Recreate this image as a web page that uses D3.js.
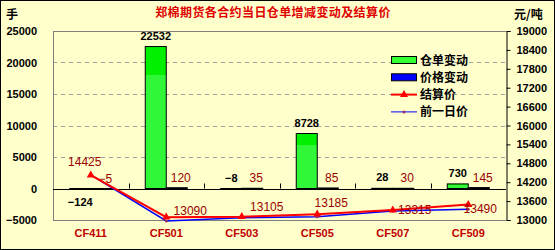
<!DOCTYPE html>
<html>
<head>
<meta charset="utf-8">
<script src="https://cdn.jsdelivr.net/npm/d3@7"></script>
<style>
  body { margin: 0; background: #fff; }
  svg text { font-family: "Liberation Sans", Arial, sans-serif; }
  .cjk { font-family: "Noto Sans CJK SC", sans-serif; font-weight: bold; }
</style>
</head>
<body>
<svg id="chart"></svg>
<script>
// contracts
const categories = ["CF411", "CF501", "CF503", "CF505", "CF507", "CF509"];
// warehouse receipt change (lots) and settlement price change (yuan/t)
const receiptChange = [-124, 22532, -8, 8728, 28, 730];
const priceChange = [-5, 120, 35, 85, 30, 145];
// settlement price and previous day's price
const settlePrice = [14425, 13090, 13105, 13185, 13315, 13490];
const prevPrice = [14430, 12970, 13070, 13100, 13285, 13345];
const leftTicks = [-5000, 0, 5000, 10000, 15000, 20000, 25000];
const rightTicks = [13000, 13600, 14200, 14800, 15400, 16000, 16600, 17200, 17800, 18400, 19000];
const seriesNames = ["仓单变动", "价格变动", "结算价", "前一日价"];
const title = "郑棉期货各合约当日仓单增减变动及结算价";

// manual label nudges for settlement labels (like dragged excel labels)
const settleLabelNudge = [[-6, -13], [24, -6], [25, -10], [14, -11], [22, 0], [12, 4]];

const width = 555, height = 250;
const plot = { left: 53, right: 506, top: 31, bottom: 220 };

const svg = d3.select("#chart").attr("width", width).attr("height", height);

svg.append("rect")
  .attr("x", 0.5).attr("y", 0.5)
  .attr("width", width - 1).attr("height", height - 1)
  .attr("fill", "#ffffcc").attr("stroke", "#000");

const defs = svg.append("defs");
const grad = defs.append("linearGradient")
  .attr("id", "greenBar").attr("x1", 0).attr("y1", 0).attr("x2", 0).attr("y2", 1);
grad.append("stop").attr("offset", "0").attr("stop-color", "#00f000");
grad.append("stop").attr("offset", "0.2").attr("stop-color", "#00f000");
grad.append("stop").attr("offset", "0.2").attr("stop-color", "#30f838");
grad.append("stop").attr("offset", "1").attr("stop-color", "#30f838");

const x = d3.scaleBand().domain(categories).range([plot.left, plot.right]).padding(0);
const yL = d3.scaleLinear().domain([-5000, 25000]).range([plot.bottom, plot.top]);
const yR = d3.scaleLinear().domain([13000, 19000]).range([plot.bottom, plot.top]);

const barW = 21;
const sub = d3.scaleBand().domain([0, 1]).range([0, barW * 2]);
const groupOff = (x.bandwidth() - barW * 2) / 2;

// gridlines
svg.append("g").selectAll("line")
  .data(leftTicks.filter(t => t > 0 && t < 25000))
  .enter().append("line")
  .attr("x1", plot.left).attr("x2", plot.right)
  .attr("y1", d => Math.round(yL(d)) + 0.5).attr("y2", d => Math.round(yL(d)) + 0.5)
  .attr("stroke", "#a0a0a0").attr("stroke-dasharray", "4,4");

// plot frame
svg.append("line").attr("x1", plot.left).attr("x2", plot.right)
  .attr("y1", plot.top + 0.5).attr("y2", plot.top + 0.5).attr("stroke", "#808080");
svg.append("line").attr("x1", plot.left).attr("x2", plot.right)
  .attr("y1", plot.bottom + 0.5).attr("y2", plot.bottom + 0.5).attr("stroke", "#808080");
svg.append("line").attr("x1", plot.left + 0.5).attr("x2", plot.left + 0.5)
  .attr("y1", plot.top).attr("y2", plot.bottom).attr("stroke", "#808080");

// left axis labels
svg.append("g").selectAll("text")
  .data(leftTicks)
  .enter().append("text")
  .attr("x", 37).attr("y", d => yL(d) + 4)
  .attr("text-anchor", "end")
  .attr("font-size", "11px").attr("font-weight", "bold")
  .text(d => d3.format("d")(d));

// right axis
const rAxis = svg.append("g")
  .attr("transform", `translate(${plot.right + 0.5},0)`)
  .call(d3.axisRight(yR).tickValues(rightTicks).tickSize(4).tickPadding(6).tickFormat(d3.format("d")));
rAxis.select(".domain").attr("stroke", "#000");
rAxis.selectAll("text").attr("font-size", "11px").attr("font-weight", "bold")
  .attr("font-family", "Liberation Sans, Arial, sans-serif").attr("fill", "#000");

// bars
const groups = svg.append("g").selectAll("g")
  .data(categories)
  .enter().append("g")
  .attr("transform", d => `translate(${x(d) + groupOff},0)`);

groups.append("rect")
  .attr("x", sub(0))
  .attr("y", (d, i) => yL(Math.max(0, receiptChange[i])))
  .attr("width", barW)
  .attr("height", (d, i) => Math.max(1, Math.abs(yL(receiptChange[i]) - yL(0))))
  .attr("fill", "url(#greenBar)").attr("stroke", "#000").attr("stroke-width", 1);

groups.append("rect")
  .attr("x", sub(1))
  .attr("y", (d, i) => yL(Math.max(0, priceChange[i])))
  .attr("width", barW)
  .attr("height", (d, i) => Math.max(1, Math.abs(yL(priceChange[i]) - yL(0))))
  .attr("fill", "#0000ff").attr("stroke", "#000").attr("stroke-width", 1);

// zero axis line + category ticks
svg.append("line").attr("x1", plot.left).attr("x2", plot.right)
  .attr("y1", Math.round(yL(0)) + 0.5).attr("y2", Math.round(yL(0)) + 0.5).attr("stroke", "#000");
svg.append("g").selectAll("line")
  .data(categories.slice(1))
  .enter().append("line")
  .attr("x1", d => Math.round(x(d)) + 0.5).attr("x2", d => Math.round(x(d)) + 0.5)
  .attr("y1", yL(0) - 5).attr("y2", yL(0))
  .attr("stroke", "#000");

// bar labels
const belowZero = v => v < 0 && Math.abs(yL(v) - yL(0)) > 0.5;
groups.append("text")
  .attr("x", sub(0) + barW / 2)
  .attr("y", (d, i) => belowZero(receiptChange[i]) ? yL(receiptChange[i]) + 17 : yL(Math.max(0, receiptChange[i])) - 7)
  .attr("text-anchor", "middle")
  .attr("font-size", "11px").attr("font-weight", "bold").attr("fill", "#000")
  .text((d, i) => d3.format("d")(receiptChange[i]));

groups.append("text")
  .attr("x", sub(1) + barW / 2 + 4)
  .attr("y", (d, i) => yL(Math.max(0, priceChange[i])) - 6)
  .attr("text-anchor", "middle")
  .attr("font-size", "12px").attr("font-family", "Liberation Serif, serif").attr("fill", "#990000")
  .text((d, i) => d3.format("d")(priceChange[i]));

// lines
const cx = d => x(d) + x.bandwidth() / 2;
const priceLine = d3.line().x((d, i) => cx(categories[i])).y(d => yR(d));
svg.append("path").datum(prevPrice)
  .attr("d", priceLine).attr("fill", "none").attr("stroke", "#0000ff").attr("stroke-width", 1.5);
svg.append("g").selectAll("circle")
  .data(prevPrice).enter().append("circle")
  .attr("cx", (d, i) => cx(categories[i])).attr("cy", d => yR(d)).attr("r", 1.5)
  .attr("fill", "#993366");

svg.append("path").datum(settlePrice)
  .attr("d", priceLine).attr("fill", "none").attr("stroke", "#ff0000").attr("stroke-width", 2);
const tri = d3.symbol().type(d3.symbolTriangle).size(28);
svg.append("g").selectAll("path")
  .data(settlePrice).enter().append("path")
  .attr("d", tri)
  .attr("transform", (d, i) => `translate(${cx(categories[i])},${yR(d)})`)
  .attr("fill", "#ff0000");

svg.append("g").selectAll("text")
  .data(settlePrice).enter().append("text")
  .attr("x", (d, i) => cx(categories[i]) + settleLabelNudge[i][0])
  .attr("y", (d, i) => yR(d) + settleLabelNudge[i][1] + 4)
  .attr("text-anchor", "middle")
  .attr("font-size", "12px").attr("font-family", "Liberation Serif, serif").attr("fill", "#990000")
  .text(d => d);

// category labels
svg.append("g").selectAll("text")
  .data(categories).enter().append("text")
  .attr("x", d => cx(d)).attr("y", 237)
  .attr("text-anchor", "middle")
  .attr("font-size", "11px").attr("font-weight", "bold").attr("fill", "#c00000")
  .text(d => d);

// title and units
svg.append("text").attr("class", "cjk")
  .attr("x", 273).attr("y", 17).attr("text-anchor", "middle")
  .attr("font-size", "12px").attr("letter-spacing", "0.4px").attr("fill", "#e00000")
  .text(title);
svg.append("text").attr("class", "cjk").attr("x", 6).attr("y", 19)
  .attr("font-size", "12px").attr("fill", "#000").text("手");
svg.append("text").attr("class", "cjk").attr("x", 514).attr("y", 19)
  .attr("font-size", "12px").attr("fill", "#000").text("元/吨");

// legend
const legend = svg.append("g").attr("transform", "translate(391,60)");
const item = legend.selectAll("g")
  .data(seriesNames).enter().append("g")
  .attr("transform", (d, i) => `translate(0,${i * 17.3})`);
item.filter((d, i) => i < 2).append("rect")
  .attr("x", 0.5).attr("y", -3.5).attr("width", 25).attr("height", 7)
  .attr("fill", (d, i) => i === 0 ? "#33ff33" : "#0000ff").attr("stroke", "#000");
item.filter((d, i) => i === 2).append("line")
  .attr("x1", 0).attr("x2", 26).attr("stroke", "#ff0000").attr("stroke-width", 2);
item.filter((d, i) => i === 2).append("path")
  .attr("d", tri).attr("transform", "translate(13,0)").attr("fill", "#ff0000");
item.filter((d, i) => i === 3).append("line")
  .attr("x1", 0).attr("x2", 26).attr("stroke", "#0000ff").attr("stroke-width", 1);
item.filter((d, i) => i === 3).append("circle")
  .attr("cx", 13).attr("r", 1.5).attr("fill", "#993366");
item.append("text").attr("class", "cjk")
  .attr("x", 29).attr("y", 4.5)
  .attr("font-size", "12px").attr("fill", "#000")
  .text(d => d);
</script>
</body>
</html>
